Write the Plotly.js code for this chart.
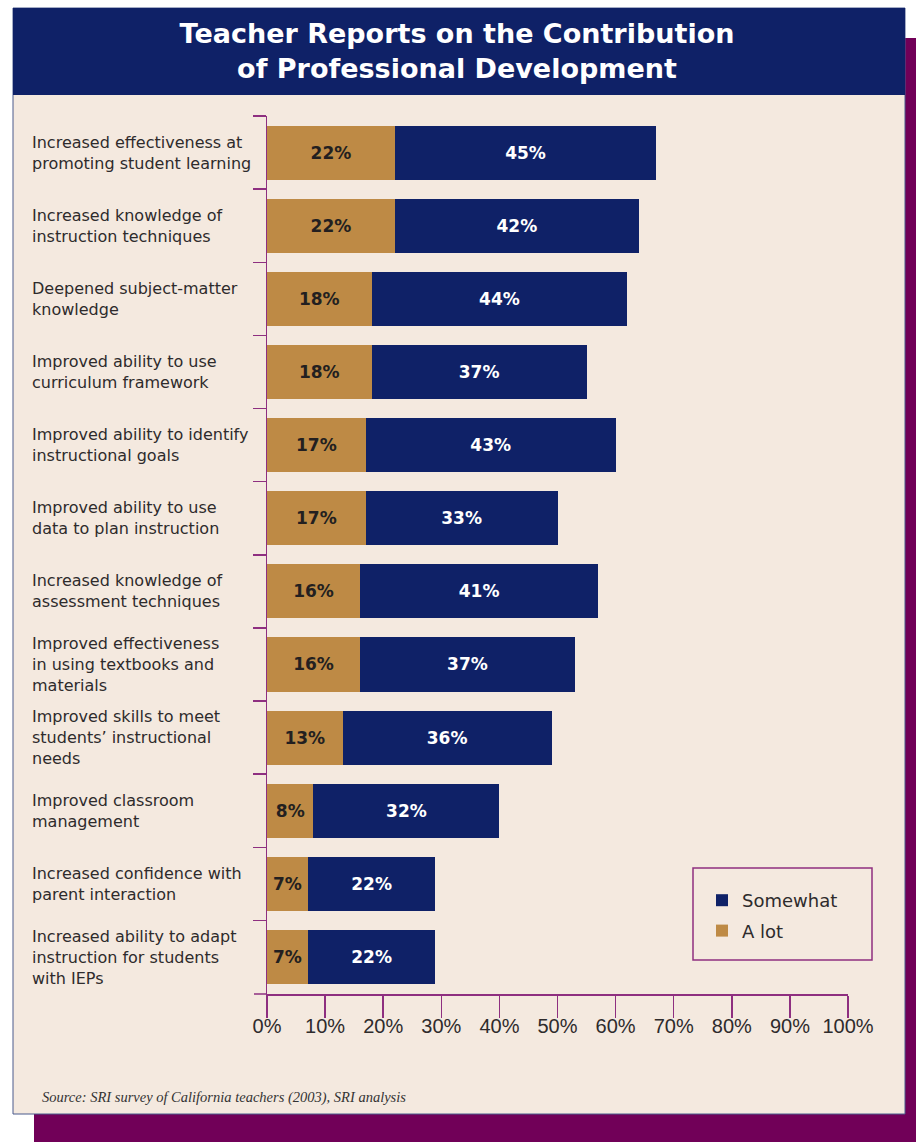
<!DOCTYPE html>
<html>
<head>
<meta charset="utf-8">
<script src="https://cdn.plot.ly/plotly-3.0.1.min.js"></script>
<style>html,body{margin:0;padding:0;background:#fff;}</style>
</head>
<body>
<div id="chart" style="width:916px;height:1142px;"></div>
<script>
// ---- data ----
const categories = [
  "Increased effectiveness at<br>promoting student learning",
  "Increased knowledge of<br>instruction techniques",
  "Deepened subject-matter<br>knowledge",
  "Improved ability to use<br>curriculum framework",
  "Improved ability to identify<br>instructional goals",
  "Improved ability to use<br>data to plan instruction",
  "Increased knowledge of<br>assessment techniques",
  "Improved effectiveness<br>in using textbooks and<br>materials",
  "Improved skills to meet<br>students\u2019 instructional<br>needs",
  "Improved classroom<br>management",
  "Increased confidence with<br>parent interaction",
  "Increased ability to adapt<br>instruction for students<br>with IEPs"
];
const aLot     = [22, 22, 18, 18, 17, 17, 16, 16, 13, 8, 7, 7];
const somewhat = [45, 42, 44, 37, 43, 33, 41, 37, 36, 32, 22, 22];
const xTickVals = [0,10,20,30,40,50,60,70,80,90,100];
const xTickText = ["0%","10%","20%","30%","40%","50%","60%","70%","80%","90%","100%"];
const titleText = "Teacher Reports on the Contribution<br>of Professional Development";
const sourceText = "Source: SRI survey of California teachers (2003), SRI analysis";

// ---- geometry helpers (pixel -> paper) ----
const W = 916, H = 1142;
const ML = 267, MR = 68, MT = 116, MB = 148;
const PW = W - ML - MR, PH = H - MT - MB;
const X = px => (px - ML) / PW;
const Y = py => (H - MB - py) / PH;

const NAVY = '#0F2167', TAN = '#BE8A45', BEIGE = '#F4E9DF', PURPLE = '#710058', AXIS = '#8E2F80';

const traces = [
  {
    type: 'bar', orientation: 'h', name: 'A lot',
    y: categories, x: aLot,
    marker: {color: TAN, line: {width: 0}},
    texttemplate: '%{x}%', textposition: 'inside', insidetextanchor: 'middle', textangle: 0,
    textfont: {family: 'DejaVu Sans', size: 17, weight: 'bold', color: '#231F20'},
    hoverinfo: 'skip', legendgroup: 'a', legendrank: 2
  },
  {
    type: 'bar', orientation: 'h', name: 'Somewhat',
    y: categories, x: somewhat,
    marker: {color: NAVY, line: {width: 0}},
    texttemplate: '%{x}%', textposition: 'inside', insidetextanchor: 'middle', textangle: 0,
    textfont: {family: 'DejaVu Sans', size: 17, weight: 'bold', color: '#FFFFFF'},
    hoverinfo: 'skip', legendgroup: 's', legendrank: 1
  }
];

const annotations = categories.map(c => ({
  xref: 'paper', yref: 'y', x: X(30), y: c, text: c,
  xanchor: 'left', yanchor: 'middle', align: 'left', showarrow: false,
  font: {family: 'DejaVu Sans, sans-serif', size: 16, color: '#2E2B2C'}
}));
annotations.push({
  xref: 'paper', yref: 'paper', x: X(40), y: Y(1097), text: sourceText,
  xanchor: 'left', yanchor: 'middle', showarrow: false,
  font: {family: 'Liberation Serif, serif', size: 14.5, style: 'italic', color: '#333'}
});

const shapes = [
  {type:'rect', xref:'paper', yref:'paper', x0:X(34), x1:X(916), y0:Y(1142), y1:Y(38),
   fillcolor: PURPLE, line:{width:0}, layer:'below'},
  {type:'rect', xref:'paper', yref:'paper', x0:X(13), x1:X(905), y0:Y(1114), y1:Y(8),
   fillcolor: BEIGE, line:{width:1, color:'#4B5B8C'}, layer:'below'},
  {type:'rect', xref:'paper', yref:'paper', x0:X(13), x1:X(905), y0:Y(95), y1:Y(8),
   fillcolor: NAVY, line:{width:0}, layer:'below'},
  {type:'line', xref:'paper', yref:'paper', x0:X(254), x1:0, y0:0, y1:0,
   line:{width:1.5, color: AXIS}},
  {type:'rect', xref:'paper', yref:'paper', x0:X(693), x1:X(872), y0:Y(960), y1:Y(868),
   line:{width:1.5, color: AXIS}, fillcolor:'rgba(0,0,0,0)'}
];

const layout = {
  width: W, height: H,
  margin: {l: ML, r: MR, t: MT, b: MB},
  paper_bgcolor: '#FFFFFF', plot_bgcolor: 'rgba(0,0,0,0)',
  barmode: 'stack', bargap: 0.26,
  title: {
    text: titleText, xref: 'container', yref: 'container', x: 457/916, y: 1 - 43/H,
    xanchor: 'center', yanchor: 'middle',
    font: {family: 'DejaVu Sans, sans-serif', size: 27, weight: 'bold', color: '#FFFFFF'}
  },
  xaxis: {
    range: [0, 100], fixedrange: true,
    tickvals: xTickVals, ticktext: xTickText,
    ticks: 'outside', ticklen: 22, tickwidth: 1.5, tickcolor: AXIS,
    ticklabelstandoff: -9,
    showline: true, linecolor: AXIS, linewidth: 1.5,
    showgrid: false, zeroline: false,
    tickfont: {family: 'Liberation Sans Narrow, Liberation Sans, sans-serif', size: 20, color: '#2E2B2C'}
  },
  yaxis: {
    type: 'category', categoryorder: 'array', categoryarray: categories,
    range: [11.506, -0.5], fixedrange: true,
    showticklabels: false, tickson: 'boundaries',
    ticks: 'outside', ticklen: 13, tickwidth: 1.5, tickcolor: AXIS,
    showline: true, linecolor: AXIS, linewidth: 1.5,
    showgrid: false, zeroline: false
  },
  showlegend: true,
  legend: {
    x: X(702), y: Y(882), xanchor: 'left', yanchor: 'top',
    bgcolor: 'rgba(0,0,0,0)', borderwidth: 0,
    traceorder: 'grouped', tracegroupgap: 4,
    font: {family: 'DejaVu Sans, sans-serif', size: 18, color: '#2E2B2C'}
  },
  shapes: shapes,
  annotations: annotations
};

Plotly.newPlot('chart', traces, layout, {displayModeBar: false, staticPlot: true});
</script>
</body>
</html>
